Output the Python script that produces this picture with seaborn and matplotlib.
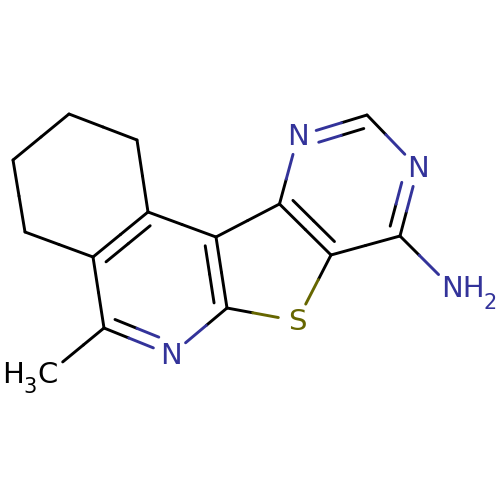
import numpy as np
import pandas as pd
import matplotlib.pyplot as plt
import seaborn as sns

sns.set_theme(style="white")
plt.rcParams["font.family"] = ["DejaVu Sans"]

# -----------------------------
# ATOMS
# -----------------------------
atom_x = [137, 69, 13, 25, 93, 148, 216, 227, 104, 171, 297, 279.5, 331, 400, 418, 367, 298, 452, 48]
atom_y = [140, 114, 160, 232, 257, 212, 237, 308, 328, 355, 321, 204, 255, 236, 168, 115, 136, 288, 374]
atom_el = ["C", "C", "C", "C", "C", "C", "C", "C", "C", "N", "S", "C", "C", "C", "N", "C", "N", "N", "C*"]

# start atom, end atom
single_a = [0, 1, 2, 3, 5, 5, 6, 7, 7, 8, 8, 10, 12, 13, 14, 16]
single_b = [1, 2, 3, 4, 0, 6, 11, 9, 10, 4, 18, 12, 13, 17, 15, 11]

# double bonds: start atom, end atom, an atom on the side of the inner line
double_a = [4, 6, 8, 11, 13, 15]
double_b = [5, 7, 9, 12, 14, 16]
double_side = [6, 8, 7, 13, 15, 11]

# text labels
label_text = ["N", "N", "N", "S", "NH", "2", "H", "3", "C"]
label_x = [171, 418, 298, 297, 462.5, 490, 13.5, 30, 48]
label_y = [356, 169, 137, 322, 289, 303, 375, 387, 375]
label_el = ["N", "N", "N", "S", "N", "N", "C", "C", "C"]
label_size = [21, 21, 21, 21, 21, 15, 21, 15, 21]

PALETTE = {"C": "#000000", "N": "#33339A", "S": "#666600"}
TRIM_LABEL = 19
TRIM_INNER_C = 7
TRIM_INNER_X = 18
OFFSET = 12


def base_el(i):
    return atom_el[i].rstrip("*")


def has_label(i):
    return atom_el[i] != "C"


# -----------------------------
# BUILD SEGMENTS
# -----------------------------
rows = []
seg_id = 0


def add_bond(p0, p1, el0, el1):
    # each half of a bond takes the colour of its own atom
    global seg_id
    mid = (p0 + p1) / 2
    for a, b, el in [(p0, mid, el0), (mid, p1, el1)]:
        rows.append({"seg": seg_id, "order": 0, "x": a[0], "y": a[1], "el": el})
        rows.append({"seg": seg_id, "order": 1, "x": b[0], "y": b[1], "el": el})
        seg_id += 1


def outer(i, j):
    p0 = np.array([atom_x[i], atom_y[i]], dtype=float)
    p1 = np.array([atom_x[j], atom_y[j]], dtype=float)
    d = (p1 - p0) / np.linalg.norm(p1 - p0)
    s = p0 + d * (TRIM_LABEL if has_label(i) else 0)
    e = p1 - d * (TRIM_LABEL if has_label(j) else 0)
    return p0, p1, d, s, e


for i, j in zip(single_a, single_b):
    _, _, _, s, e = outer(i, j)
    add_bond(s, e, base_el(i), base_el(j))

for i, j, k in zip(double_a, double_b, double_side):
    p0, p1, d, s, e = outer(i, j)
    add_bond(s, e, base_el(i), base_el(j))
    # inner line of the double bond
    n = np.array([-d[1], d[0]])
    side = np.array([atom_x[k], atom_y[k]]) - p0
    if n @ side < 0:
        n = -n
    s2 = p0 + n * OFFSET + d * (TRIM_INNER_X if has_label(i) else TRIM_INNER_C)
    e2 = p1 + n * OFFSET - d * (TRIM_INNER_X if has_label(j) else TRIM_INNER_C)
    add_bond(s2, e2, base_el(i), base_el(j))

df = pd.DataFrame(rows)

# -----------------------------
# PLOT
# -----------------------------
fig = plt.figure(figsize=(5, 5), dpi=100)
ax = fig.add_axes([0, 0, 1, 1])

sns.lineplot(data=df, x="x", y="y", hue="el", palette=PALETTE, units="seg",
             estimator=None, sort=False, legend=False, linewidth=2.1,
             solid_capstyle="round", ax=ax)

for t, x, y, el, size in zip(label_text, label_x, label_y, label_el, label_size):
    ax.text(x, y, t, color=PALETTE[el], fontsize=size, ha="center", va="center")

ax.set_xlim(0, 500)
ax.set_ylim(500, 0)
ax.axis("off")

plt.savefig("out.png", dpi=100)
